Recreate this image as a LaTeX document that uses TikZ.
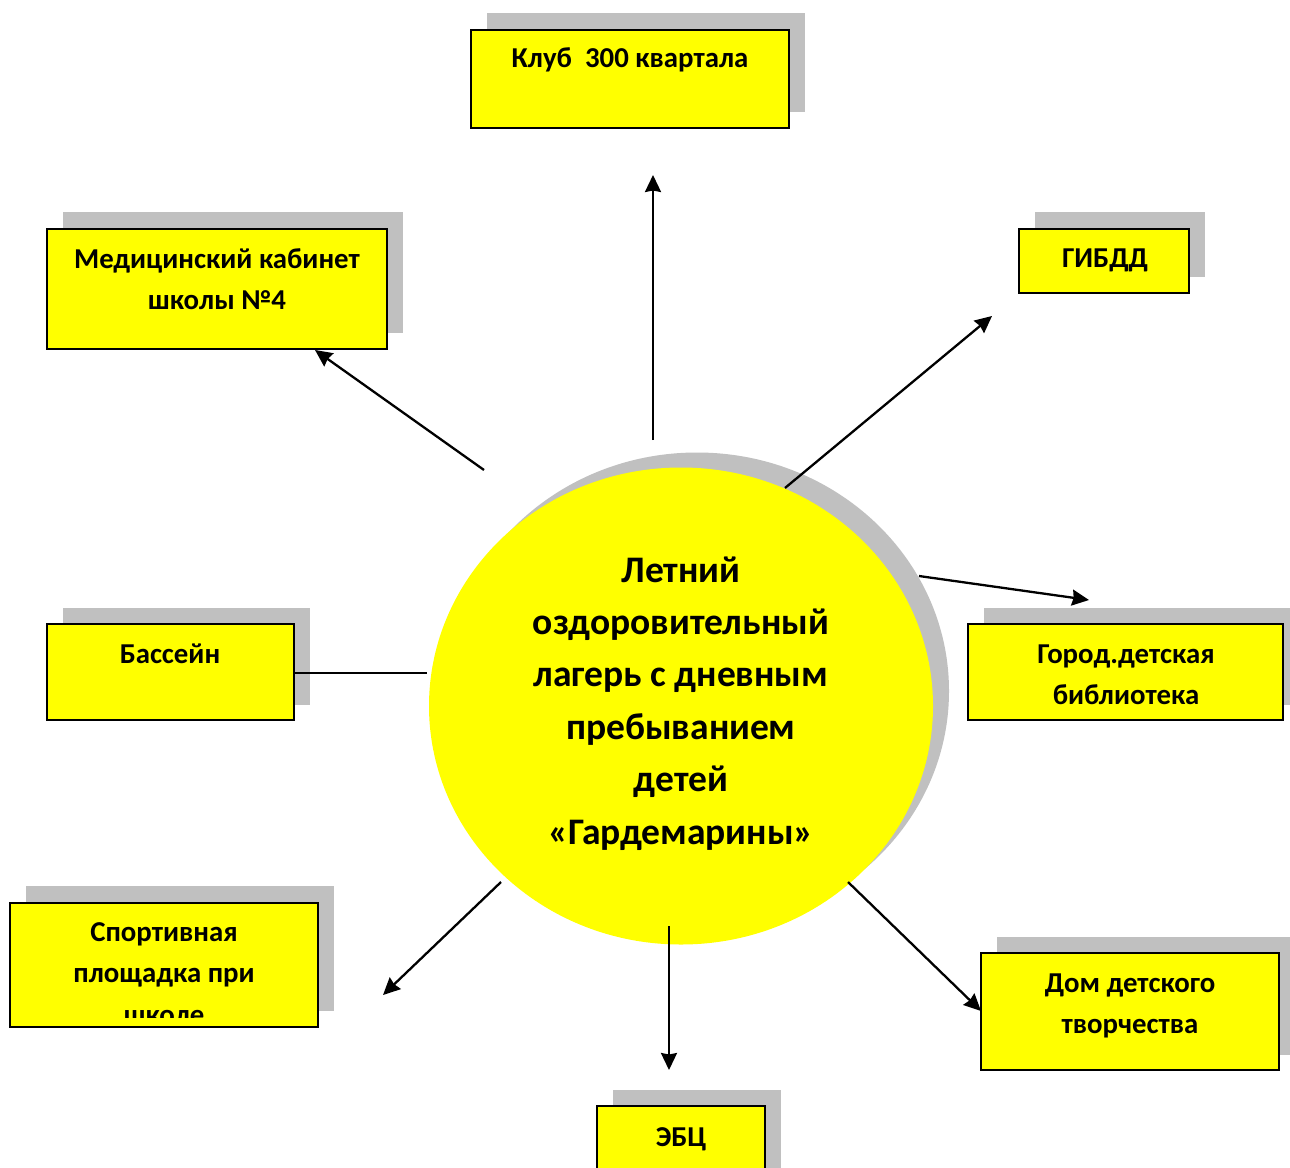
\documentclass[tikz,border=0pt]{standalone}
\usepackage{fontspec}
\setmainfont{Carlito}
\usetikzlibrary{arrows.meta,shapes.geometric}
\definecolor{shadowgray}{HTML}{C0C0C0}
\definecolor{boxyellow}{HTML}{FFFF00}
\begin{document}
\begin{tikzpicture}[x=1pt,y=-1pt,
  box/.style={draw=black,line width=2pt,fill=boxyellow,anchor=north west,inner sep=0pt,outer sep=0pt},
  shad/.style={fill=shadowgray,draw=none,anchor=north west,inner sep=0pt,outer sep=0pt},
  lbl/.style={font=\bfseries\fontsize{28.8}{41.5}\selectfont,align=center,inner sep=0pt,anchor=base},
  clbl/.style={font=\bfseries\fontsize{37.5}{52.4}\selectfont,align=center,inner sep=0pt,anchor=base},
  arr/.style={line width=2.3pt,-{Stealth[length=17pt,width=16pt,inset=1.5pt]}},
  link/.style={line width=2.3pt},
]
\useasboundingbox (0,0) rectangle (1290,1167);
\fill[white] (0,0) rectangle (1290,1167);

% central circle
\node[ellipse,fill=shadowgray,minimum width=504pt,minimum height=477pt,inner sep=0pt] (campsh) at (697,691) {};
\node[ellipse,fill=boxyellow,minimum width=504pt,minimum height=477pt,inner sep=0pt] (camp) at (681,706) {};
\node[clbl] (camptxt) at (681,844) {Летний\\оздоровительный\\лагерь с дневным\\пребыванием\\детей\\«Гардемарины»};

% boxes: shadows
\node[shad,minimum width=318pt,minimum height=99pt] (klubsh) at (487,13) {};
\node[shad,minimum width=340pt,minimum height=121pt] (medsh) at (63,212) {};
\node[shad,minimum width=170pt,minimum height=65pt] (gibddsh) at (1035,212) {};
\node[shad,minimum width=247pt,minimum height=97pt] (basssh) at (63,608) {};
\node[shad,minimum width=315pt,minimum height=97pt] (libsh) at (984,608) {};
\node[shad,minimum width=308pt,minimum height=125pt] (sportsh) at (26,886) {};
\node[shad,minimum width=298pt,minimum height=118pt] (domsh) at (997,937) {};
\node[shad,minimum width=168pt,minimum height=90pt] (ebcsh) at (613,1090) {};

% boxes
\node[box,minimum width=318pt,minimum height=98pt] (klub) at (471,30) {};
\node[box,minimum width=340pt,minimum height=120pt] (med) at (47,229) {};
\node[box,minimum width=170pt,minimum height=64pt] (gibdd) at (1019,229) {};
\node[box,minimum width=247pt,minimum height=96pt] (bass) at (47,624) {};
\node[box,minimum width=315pt,minimum height=96pt] (lib) at (968,624) {};
\node[box,minimum width=308pt,minimum height=124pt] (sport) at (10,903) {};
\node[box,minimum width=298pt,minimum height=117pt] (dom) at (981,953) {};
\node[box,minimum width=168pt,minimum height=90pt] (ebc) at (597,1106) {};

% labels (anchor base = baseline of the last line)
\node[lbl] (klubtxt) at (630,67.5) {Клуб~~300 квартала};
\node[lbl] (medtxt) at (217,309.5) {Медицинский кабинет\\школы №4};
\node[lbl] (gibddtxt) at (1105,267.5) {ГИБДД};
\node[lbl] (basstxt) at (170,663) {Бассейн};
\node[lbl] (libtxt) at (1126,704.5) {Город.детская\\библиотека};
\begin{scope}
  \clip (10,903) rectangle (318,1017);
  \node[lbl] (sporttxt) at (164,1024) {Спортивная\\площадка при\\школе};
\end{scope}
\node[lbl] (domtxt) at (1130,1033.5) {Дом детского\\творчества};
\node[lbl] (ebctxt) at (681,1146) {ЭБЦ};

% connector end points
\coordinate (kS) at (653,440);  \coordinate (kE) at (653,175);
\coordinate (mS) at (484,470);  \coordinate (mE) at (315,350);
\coordinate (gS) at (785,488);  \coordinate (gE) at (992,316);
\coordinate (lS) at (919,576);  \coordinate (lE) at (1089,600);
\coordinate (bS) at (427,673);
\coordinate (sS) at (501,882);  \coordinate (sE) at (383,995);
\coordinate (eS) at (669,926);  \coordinate (eE) at (669,1070);
\coordinate (dS) at (848,882);  \coordinate (dE) at (981,1011);

\draw[arr] (kS) -- (kE);
\draw[arr] (mS) -- (mE);
\draw[arr] (gS) -- (gE);
\draw[arr] (lS) -- (lE);
\draw[link] (bass.east |- bS) -- (bS);
\draw[arr] (sS) -- (sE);
\draw[arr] (eS) -- (eE);
\draw[arr] (dS) -- (dE);
\end{tikzpicture}
\end{document}
